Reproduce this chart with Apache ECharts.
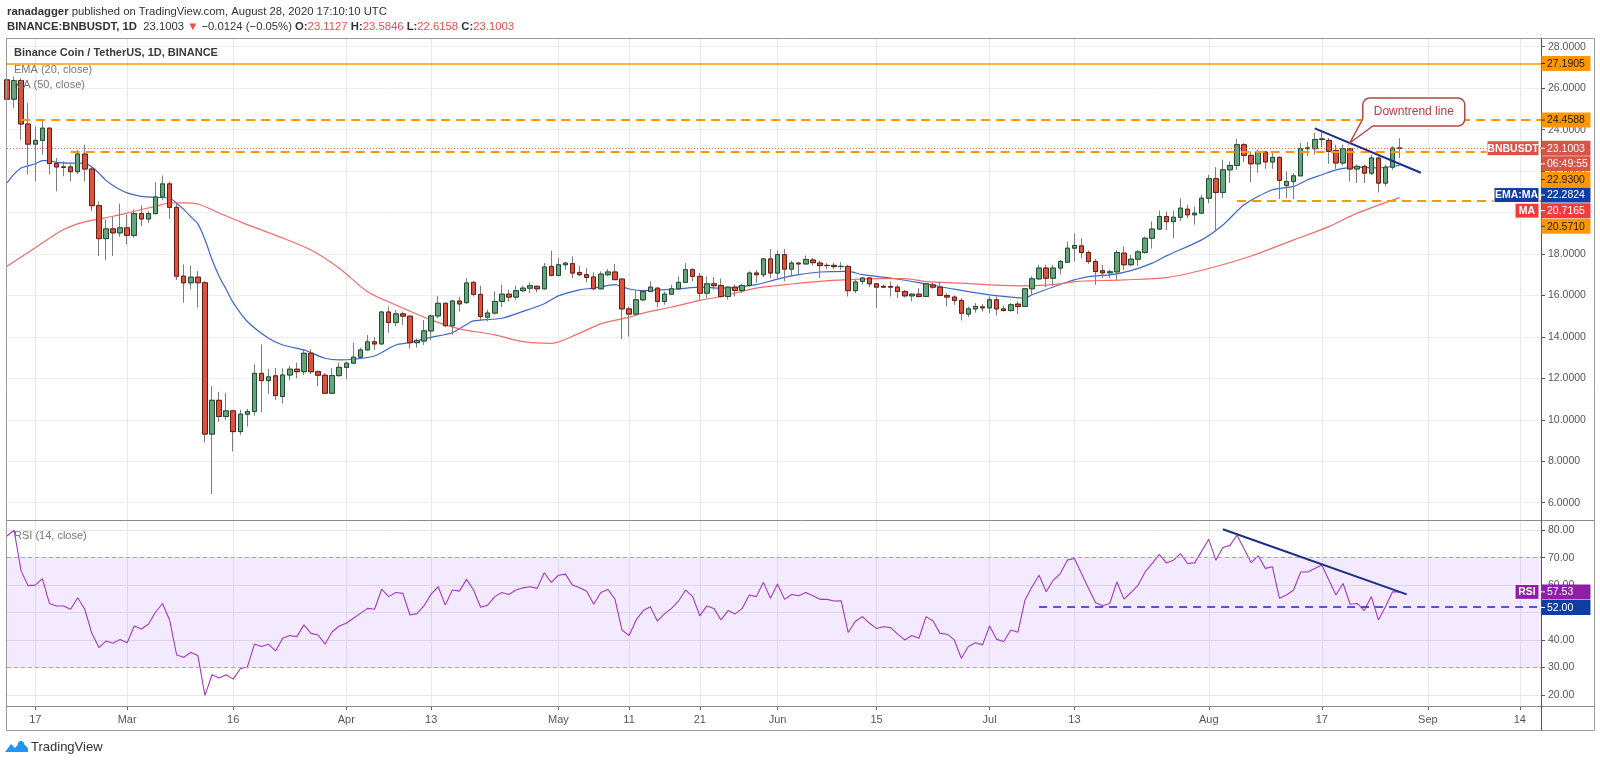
<!DOCTYPE html>
<html><head><meta charset="utf-8">
<script src="https://cdn.jsdelivr.net/npm/echarts@6/dist/echarts.min.js"></script>
<style>html,body{margin:0;padding:0;background:#fff;}#c{width:1600px;height:763px;}</style>
</head><body><div id="c"></div>
<script>
// ---------- axis categories (daily, Feb 13 2020 .. Sep 17 2020) ----------
const firstDay = Date.UTC(2020, 1, 13);
const dayCount = 218;
const dates = [];
for (let i = 0; i < dayCount; i++) dates.push(new Date(firstDay + i * 86400000).toISOString().slice(0, 10));
const xTickDates = ['2020-02-17','2020-03-01','2020-03-16','2020-04-01','2020-04-13','2020-05-01','2020-05-11','2020-05-21','2020-06-01','2020-06-15','2020-07-01','2020-07-13','2020-08-01','2020-08-17','2020-09-01','2020-09-14'];
const monthNames = ['Jan','Feb','Mar','Apr','May','Jun','Jul','Aug','Sep','Oct','Nov','Dec'];
const priceTicks = [6,8,10,12,14,16,18,20,22,24,26,28];
const rsiTicks = [20,30,40,50,60,70,80];

// ---------- BNB/USDT daily OHLC (Feb 13 .. Aug 28) ----------
const open = [26.40,25.47,26.37,24.27,23.30,23.48,24.07,22.36,22.20,22.20,
21.97,22.82,22.10,20.33,18.74,19.21,19.02,19.26,18.90,19.95,
19.69,19.95,20.75,21.38,20.25,16.93,16.61,16.88,16.61,9.31,
10.94,10.16,10.43,9.43,10.27,10.40,12.24,11.89,12.12,11.12,
12.16,12.44,12.32,13.21,12.32,12.15,11.28,12.13,12.53,12.73,
13.02,13.37,13.76,13.66,15.20,14.69,15.11,15.00,13.72,13.80,
14.29,15.01,15.62,14.54,15.73,15.65,16.63,16.05,14.95,15.15,
15.71,16.06,15.92,16.23,16.35,16.44,16.32,17.40,16.97,17.48,
17.53,17.11,17.00,16.89,16.32,17.00,17.13,16.79,15.35,15.10,
15.79,16.19,16.35,15.71,16.06,16.32,16.63,17.24,16.92,16.11,
16.56,16.48,15.95,16.40,16.24,16.48,17.08,17.00,17.76,17.08,
17.97,17.27,17.56,17.52,17.71,17.56,17.45,17.45,17.40,17.40,
16.23,16.68,16.84,16.56,16.44,16.43,16.40,16.19,15.98,16.06,
15.95,16.51,16.40,16.00,15.92,15.76,15.10,15.35,15.45,15.40,
15.79,15.35,15.27,15.58,15.47,16.32,16.80,17.32,16.83,17.32,
17.60,18.28,18.39,18.07,17.64,17.19,17.09,17.14,18.04,17.48,
17.75,18.07,18.76,19.20,19.81,19.56,19.77,20.16,19.89,19.97,
20.69,21.63,20.97,22.06,22.27,23.27,22.76,22.35,22.92,22.44,
22.66,21.31,21.50,21.77,23.08,23.08,23.52,23.48,22.99,22.39,
23.08,22.10,22.23,21.90,22.63,21.42,22.19,23.1127];
const close = [25.47,26.37,24.27,23.30,23.48,24.07,22.36,22.20,22.18,21.97,
22.82,22.10,20.33,18.74,19.21,19.02,19.26,18.90,19.95,19.69,
19.95,20.75,21.38,20.25,16.93,16.61,16.88,16.61,9.31,10.94,
10.16,10.43,9.43,10.27,10.40,12.24,11.89,12.07,11.17,12.16,
12.44,12.32,13.21,12.32,12.15,11.28,12.13,12.53,12.73,13.02,
13.37,13.76,13.66,15.20,14.69,15.11,15.00,13.72,13.82,14.29,
15.01,15.62,14.54,15.73,15.59,16.60,16.05,14.98,15.15,15.71,
16.06,15.92,16.23,16.35,16.47,16.32,17.37,16.97,17.48,17.56,
17.08,17.00,16.87,16.32,17.03,17.13,16.76,15.35,15.10,15.79,
16.19,16.40,15.71,16.06,16.32,16.63,17.24,16.92,16.11,16.56,
16.47,15.95,16.40,16.24,16.48,17.08,17.00,17.76,17.08,17.97,
17.27,17.56,17.52,17.73,17.58,17.44,17.44,17.39,17.40,16.23,
16.65,16.84,16.56,16.40,16.40,16.40,16.19,15.98,16.06,15.95,
16.56,16.40,16.00,15.92,15.76,15.14,15.35,15.47,15.40,15.79,
15.35,15.27,15.55,15.47,16.32,16.80,17.32,16.83,17.32,17.64,
18.28,18.41,18.07,17.64,17.15,17.09,17.14,18.07,17.48,17.75,
18.10,18.76,19.20,19.81,19.56,19.77,20.21,19.89,19.97,20.69,
21.63,20.97,22.06,22.27,23.27,22.76,22.35,22.92,22.44,22.66,
21.55,21.50,21.77,23.08,23.12,23.52,23.55,22.95,22.39,23.08,
22.10,22.23,21.90,22.63,21.42,22.19,23.11,23.1003];
const low = [24.60,25.04,23.51,21.83,21.50,22.79,21.83,21.02,21.75,21.50,
21.85,21.50,20.06,17.90,17.70,17.90,18.83,18.46,18.78,19.34,
19.50,19.90,20.62,19.69,16.74,15.65,16.29,15.41,8.90,6.42,
9.90,10.00,8.47,9.27,9.67,10.20,10.36,11.25,10.96,10.80,
11.90,12.00,12.16,12.20,11.63,11.25,11.25,12.08,11.95,12.70,
12.97,13.34,13.37,13.61,14.20,14.53,14.58,13.43,13.48,13.61,
13.85,14.90,14.49,14.10,15.22,15.60,15.95,14.79,14.75,15.07,
15.44,15.71,15.79,16.16,16.11,16.15,16.27,16.92,16.92,17.24,
16.84,16.92,16.63,16.27,16.29,16.92,16.76,13.89,14.02,15.03,
15.71,16.16,15.44,15.55,16.06,16.27,16.60,16.68,15.79,15.87,
16.27,15.90,15.79,15.95,16.11,16.42,16.60,16.89,16.84,16.84,
16.68,16.92,17.03,17.48,17.44,16.84,17.27,17.27,17.24,15.95,
16.11,16.52,16.40,15.39,16.36,15.95,15.87,15.90,15.71,15.90,
15.95,16.32,16.00,15.47,15.55,14.79,14.95,15.17,15.22,15.14,
15.03,15.22,15.22,15.10,15.44,16.04,16.76,16.40,16.47,17.00,
17.56,17.64,17.80,17.52,16.51,16.84,16.84,16.76,17.24,17.40,
17.42,18.01,18.26,19.17,19.16,18.76,19.60,19.73,19.42,19.92,
20.45,19.16,20.69,21.42,22.06,22.44,21.47,21.92,22.11,22.11,
20.65,20.69,20.65,21.77,22.71,22.79,23.16,22.35,22.11,22.27,
21.49,21.42,21.42,21.81,20.97,21.26,22.06,22.6158];
const high = [27.00,26.56,26.48,25.28,24.15,24.48,24.10,22.63,22.47,22.40,
23.03,23.27,22.23,20.54,19.66,19.79,20.43,19.90,20.14,20.35,
20.06,21.46,21.78,21.49,20.46,17.49,17.44,17.17,16.70,11.63,
11.35,11.31,10.45,10.48,10.52,12.68,13.64,12.45,12.49,12.49,
12.60,12.76,13.37,13.40,12.38,12.25,12.49,12.76,12.81,13.72,
13.48,14.09,13.98,15.25,15.46,15.30,15.22,15.00,13.93,14.82,
15.06,15.97,15.65,15.78,15.94,16.83,16.68,16.47,15.31,16.19,
16.52,16.27,16.47,16.47,16.63,16.47,17.56,18.16,17.81,17.60,
17.89,17.44,17.32,17.11,17.16,17.27,17.52,16.79,15.47,16.27,
16.27,16.68,16.40,16.19,16.52,16.92,17.56,17.32,17.08,16.92,
16.89,16.81,16.44,16.52,16.56,17.16,17.24,17.81,18.24,18.16,
18.24,17.68,17.61,17.92,17.81,17.68,17.56,17.56,17.60,17.48,
16.76,16.89,16.89,16.60,16.52,16.68,16.52,16.27,16.11,16.35,
16.59,16.63,16.65,16.11,16.00,15.87,15.47,15.63,15.58,15.95,
15.95,15.50,15.63,15.71,16.35,16.92,17.48,17.48,17.48,17.72,
18.60,19.00,18.76,18.17,17.76,17.48,17.24,18.20,18.36,17.96,
18.20,18.84,19.57,20.10,20.05,20.10,20.69,20.37,20.29,20.85,
21.82,22.19,22.55,22.47,23.55,23.35,22.95,23.03,22.95,22.87,
22.71,21.98,21.90,23.35,23.40,23.84,23.87,23.60,23.27,23.27,
23.11,22.31,22.31,22.79,22.71,22.31,23.19,23.5846];

// ---------- EMA(20) and MA(50) ----------
const ema20 = [['2020-02-13',21.43],['2020-02-14',21.85],['2020-02-15',22.15],['2020-02-16',22.25],['2020-02-17',22.35],['2020-02-18',22.5],['2020-02-19',22.5],['2020-02-20',22.42],['2020-02-22',22.38],['2020-02-24',22.38],['2020-02-25',22.2],['2020-02-26',21.9],['2020-02-27',21.55],['2020-02-28',21.3],['2020-02-29',21.1],['2020-03-01',20.95],['2020-03-02',20.85],['2020-03-03',20.78],['2020-03-05',20.73],['2020-03-07',20.7],['2020-03-08',20.45],['2020-03-09',20.15],['2020-03-10',19.8],['2020-03-11',19.45],['2020-03-12',18.7],['2020-03-13',17.73],['2020-03-14',16.93],['2020-03-15',16.3],['2020-03-16',15.65],['2020-03-18',14.74],['2020-03-21',13.93],['2020-03-23',13.61],['2020-03-26',13.37],['2020-03-29',12.97],['2020-03-31',12.89],['2020-04-02',12.92],['2020-04-05',13.08],['2020-04-08',13.61],['2020-04-10',13.72],['2020-04-13',13.98],['2020-04-16',14.2],['2020-04-18',14.6],['2020-04-19',14.77],['2020-04-23',14.9],['2020-04-26',15.23],['2020-04-29',15.6],['2020-05-01',15.98],['2020-05-04',16.27],['2020-05-06',16.35],['2020-05-09',16.52],['2020-05-11',16.31],['2020-05-13',16.23],['2020-05-15',16.27],['2020-05-18',16.31],['2020-05-21',16.4],['2020-05-24',16.35],['2020-05-29',16.52],['2020-06-01',16.79],['2020-06-04',17.0],['2020-06-07',17.13],['2020-06-11',17.16],['2020-06-13',17.0],['2020-06-17',16.84],['2020-06-21',16.62],['2020-06-26',16.3],['2020-07-01',16.03],['2020-07-04',15.92],['2020-07-06',15.87],['2020-07-07',16.03],['2020-07-12',16.65],['2020-07-15',16.91],['2020-07-18',16.99],['2020-07-21',17.2],['2020-07-24',17.56],['2020-07-26',17.91],['2020-07-31',18.68],['2020-08-03',19.4],['2020-08-06',20.37],['2020-08-10',21.1],['2020-08-13',21.26],['2020-08-15',21.58],['2020-08-17',21.82],['2020-08-19',22.06],['2020-08-22',22.19],['2020-08-25',22.15],['2020-08-28',22.28]];
const ma50 = [['2020-02-13',17.41],['2020-02-17',18.3],['2020-02-21',19.18],['2020-02-24',19.55],['2020-02-28',19.82],['2020-03-02',20.06],['2020-03-05',20.3],['2020-03-07',20.46],['2020-03-09',20.47],['2020-03-11',20.41],['2020-03-14',19.98],['2020-03-17',19.55],['2020-03-22',18.9],['2020-03-27',18.19],['2020-03-31',17.31],['2020-04-04',16.18],['2020-04-08',15.54],['2020-04-13',14.82],['2020-04-17',14.39],['2020-04-22',14.1],['2020-04-26',13.77],['2020-04-30',13.69],['2020-05-04',14.18],['2020-05-07',14.63],['2020-05-11',14.95],['2020-05-13',15.15],['2020-05-17',15.44],['2020-05-21',15.76],['2020-05-24',15.95],['2020-05-29',16.35],['2020-06-03',16.55],['2020-06-07',16.68],['2020-06-11',16.76],['2020-06-15',16.81],['2020-06-19',16.81],['2020-06-22',16.67],['2020-06-27',16.59],['2020-07-01',16.51],['2020-07-06',16.46],['2020-07-11',16.56],['2020-07-13',16.67],['2020-07-15',16.7],['2020-07-20',16.75],['2020-07-26',16.86],['2020-08-01',17.3],['2020-08-07',17.9],['2020-08-13',18.68],['2020-08-18',19.32],['2020-08-22',19.97],['2020-08-28',20.72]];

// ---------- RSI(14) daily ----------
const rsi = [77.9,80,65.1,59.8,60,62.4,53.3,52.4,52.4,51.2,
55.4,51.2,42.4,37.2,39.6,38.8,40.2,39,45.1,44,
45.7,50.1,53.3,47.3,34.5,33.7,35.4,34.3,19.8,27.3,
26.1,27.3,25.7,29.5,30.1,38.5,37.6,38.4,36,40.6,
41.6,41.2,45.5,42.4,41.8,38.5,43,45.1,46.1,47.9,
49.7,51.5,51.2,58.5,55.8,57.3,57,49.1,49.6,52.5,
56.7,59.4,52.7,58.2,57.8,62.1,58.2,51.9,52.7,55.8,
57.3,56.6,58.2,59,59.4,58.8,64.5,61,63.6,64,
60,59,57.8,53,57.3,58.4,54.9,43.6,41.6,47.3,
50.7,52.1,46.9,49.5,51.5,54.2,58.2,55.8,48.8,52.4,
51.5,47.3,50.7,49.5,51.5,56.4,55.8,61,55.2,60.4,
54.8,56.6,56.1,57.3,56.1,54.8,54.8,54.2,54.3,42.7,
46.7,48.5,46.1,44.2,44.8,44.5,42.1,40,41.6,40.6,
48.5,46.9,42.4,42.1,40,33.3,37.6,39,38.2,45.1,
40.2,39.4,43.6,42.8,54.5,59.4,63.6,57.6,61.8,64.2,
69.1,69.7,64.2,58.8,53.6,52.5,53.3,61.2,54.9,57.3,
60,64.8,67.9,71.2,68.1,69.1,71.5,67.9,68.1,72.4,
76.7,69.1,73.7,74.5,78.2,73.3,68.2,70.7,66.1,66.7,
55.2,56.4,58.2,64.8,64.8,66.1,67.3,61.8,56.4,60.6,
53,53.3,50.7,55.8,47.3,52.1,57.6,57.53];

// ---------- drawn levels / annotations ----------
const resistTop = 27.1905, resistMid = 24.4588, supportHi = 22.93, supportLo = 20.571;
const lastPrice = 23.1003, lastEma = 22.2824, lastMa = 20.7165, lastRsi = 57.53, rsiSupport = 52;
const trendPrice = [['2020-08-16', 24.06], ['2020-08-31', 21.92]];
const trendRsi = [['2020-08-03', 80.4], ['2020-08-29', 56.6]];

const F = '"Liberation Sans", Arial, sans-serif';
const tickSet = new Set(xTickDates);
const isTick = (i) => tickSet.has(dates[i]);
const fmtDate = (v) => { const m = +v.slice(5, 7), d = +v.slice(8); return d === 1 ? monthNames[m - 1] : String(d); };
const candles = open.map((o, i) => [o, close[i], low[i], high[i]]);
// body-only view of the same candles (drawn over the grey wicks)
const bodies = open.map((o, i) => [o, close[i], Math.min(o, close[i]), Math.max(o, close[i])]);
const dashOrange = { color: '#ff9800', type: [9, 6], width: 2 };

const chart = echarts.init(document.getElementById('c'));
chart.setOption({
  animation: false,
  textStyle: { fontFamily: F },
  grid: [
    { left: 7, right: 59, top: 38, height: 482 },
    { left: 7, right: 59, top: 520, height: 186 }
  ],
  xAxis: [
    { type: 'category', gridIndex: 0, data: dates, boundaryGap: false,
      axisLine: { show: false }, axisTick: { show: false }, axisLabel: { show: false },
      splitLine: { show: true, interval: isTick, lineStyle: { color: '#e8e8e8' } } },
    { type: 'category', gridIndex: 1, data: dates, boundaryGap: false,
      axisLine: { show: true, lineStyle: { color: '#8a8a8a' } },
      axisTick: { show: true, interval: isTick, length: 4, lineStyle: { color: '#666' } },
      axisLabel: { interval: isTick, formatter: fmtDate, color: '#555', fontSize: 11, margin: 8 },
      splitLine: { show: true, interval: isTick, lineStyle: { color: '#e8e8e8' } } }
  ],
  yAxis: [
    { type: 'value', gridIndex: 0, position: 'right', min: 5.165, max: 28.42, scale: true,
      axisLine: { show: true, lineStyle: { color: '#555' } },
      axisTick: { show: true, customValues: priceTicks, length: 4, lineStyle: { color: '#555' } },
      axisLabel: { customValues: priceTicks, formatter: (v) => v.toFixed(4), color: '#555', fontSize: 10.5, margin: 7 },
      splitLine: { show: true, lineStyle: { color: '#eeeeee' } } },
    { type: 'value', gridIndex: 1, position: 'right', min: 15.9, max: 83.75, scale: true,
      axisLine: { show: true, lineStyle: { color: '#555' } },
      axisTick: { show: true, customValues: rsiTicks, length: 4, lineStyle: { color: '#555' } },
      axisLabel: { customValues: rsiTicks, formatter: (v) => v.toFixed(2), color: '#555', fontSize: 10.5, margin: 7 },
      splitLine: { show: true, lineStyle: { color: '#e6e6e6' } } }
  ],
  series: [
    { type: 'candlestick', name: 'BNBUSDT', xAxisIndex: 0, yAxisIndex: 0, data: candles, barWidth: 5, z: 3,
      itemStyle: { color: '#66a47e', color0: '#d9533f', borderColor: '#7d7d7d', borderColor0: '#7d7d7d', borderWidth: 1 },
      markLine: { silent: true, symbol: ['none', 'none'], label: { show: false }, animation: false,
        data: [
          { yAxis: resistTop, lineStyle: { color: '#ff9800', type: 'solid', width: 1.5 } },
          [{ coord: ['2020-02-15', resistMid], lineStyle: dashOrange }, { coord: ['2020-09-17', resistMid] }],
          [{ coord: ['2020-02-22', supportHi], lineStyle: dashOrange }, { coord: ['2020-09-17', supportHi] }],
          [{ coord: ['2020-08-05', supportLo], lineStyle: dashOrange }, { coord: ['2020-09-17', supportLo] }],
          { yAxis: lastPrice, lineStyle: { color: '#e06a5a', type: [1, 2], width: 1 } },
          [{ coord: trendPrice[0], lineStyle: { color: '#1b2f86', type: 'solid', width: 2 } }, { coord: trendPrice[1] }]
        ] } },
    { type: 'candlestick', name: 'BNBUSDT bodies', xAxisIndex: 0, yAxisIndex: 0, data: bodies, barWidth: 5, z: 4,
      itemStyle: { color: '#66a47e', color0: '#d9533f', borderColor: '#1f4f30', borderColor0: '#6a1c12', borderWidth: 1 } },
    { type: 'line', name: 'EMA (20, close)', xAxisIndex: 0, yAxisIndex: 0, data: ema20, smooth: 0.25, showSymbol: false, z: 2,
      lineStyle: { color: '#3d67c7', width: 1.2 } },
    { type: 'line', name: 'MA (50, close)', xAxisIndex: 0, yAxisIndex: 0, data: ma50, smooth: 0.3, showSymbol: false, z: 2,
      lineStyle: { color: '#f46a6a', width: 1.2 } },
    { type: 'line', name: 'RSI (14, close)', xAxisIndex: 1, yAxisIndex: 1, data: rsi, showSymbol: false, z: 3,
      lineStyle: { color: '#a238c2', width: 1.1 },
      markArea: { silent: true, itemStyle: { color: 'rgba(155,60,255,0.11)' }, data: [[{ yAxis: 30 }, { yAxis: 70 }]] },
      markLine: { silent: true, symbol: ['none', 'none'], label: { show: false },
        data: [
          { yAxis: 70, lineStyle: { color: '#a9a9a9', type: [4, 3], width: 1 } },
          { yAxis: 30, lineStyle: { color: '#a9a9a9', type: [4, 3], width: 1 } },
          [{ coord: ['2020-07-08', rsiSupport], lineStyle: { color: '#1c2bb8', type: [8, 6], width: 1.5 } }, { coord: ['2020-09-17', rsiSupport] }],
          [{ coord: trendRsi[0], lineStyle: { color: '#1b2f86', type: 'solid', width: 2 } }, { coord: trendRsi[1] }]
        ] } }
  ]
});

// ---------- overlay texts / axis value tags ----------
const g = [];
const AX = 1541;
function txt(x, y, text, opt) {
  g.push({ type: 'text', z: 120, silent: true, style: Object.assign({ x, y, text, fill: '#333', fontSize: 11, fontFamily: F,
    align: 'left', verticalAlign: 'middle', textAlign: 'left', textVerticalAlign: 'middle' }, opt || {}) });
}
function tagLabel(y, text, bg, fg, tag, tagX) {
  g.push({ type: 'rect', z: 110, silent: true, shape: { x: AX + 0.5, y: y - 7.5, width: 49, height: 15 }, style: { fill: bg } });
  g.push({ type: 'line', z: 111, silent: true, shape: { x1: AX, y1: y, x2: AX + 4, y2: y }, style: { stroke: fg === '#fff' ? '#fff' : '#333', lineWidth: 1 } });
  txt(AX + 6, y + 0.5, text, { fill: fg, fontSize: 10.5 });
  if (tag) {
    g.push({ type: 'rect', z: 110, silent: true, shape: { x: tagX, y: y - 7.5, width: AX - 2 - tagX, height: 15 }, style: { fill: bg, stroke: '#fff', lineWidth: 1 } });
    txt((tagX + AX - 2) / 2, y + 0.5, tag, { fill: fg, fontSize: 10.5, fontWeight: 'bold', align: 'center', textAlign: 'center' });
  }
}
const yP = (v) => chart.convertToPixel({ yAxisIndex: 0 }, v);
const yR = (v) => chart.convertToPixel({ yAxisIndex: 1 }, v);
const xP = (d) => chart.convertToPixel({ xAxisIndex: 0 }, d);

// stacked price tags (pushed down when overlapping, like TradingView)
const tags = [
  { y: yP(resistTop), text: resistTop.toFixed(4), bg: '#ff9800', fg: '#1a1a1a' },
  { y: yP(resistMid), text: resistMid.toFixed(4), bg: '#ff9800', fg: '#1a1a1a' },
  { y: yP(lastPrice), text: lastPrice.toFixed(4), bg: '#d75446', fg: '#fff', tag: 'BNBUSDT', tagX: 1487 },
  { y: yP(lastPrice) + 15.6, text: '06:49:55', bg: '#d75446', fg: '#fff' },
  { y: yP(supportHi), text: supportHi.toFixed(4), bg: '#ff9800', fg: '#1a1a1a' },
  { y: yP(lastEma), text: lastEma.toFixed(4), bg: '#0e3ea2', fg: '#fff', tag: 'EMA:MA', tagX: 1494 },
  { y: yP(lastMa), text: lastMa.toFixed(4), bg: '#f23b3b', fg: '#fff', tag: 'MA', tagX: 1515 },
  { y: yP(supportLo), text: supportLo.toFixed(4), bg: '#ff9800', fg: '#1a1a1a' }
];
let prev = -1e9;
tags.forEach(t => { t.y = Math.max(t.y, prev + 15.6); prev = t.y; tagLabel(t.y, t.text, t.bg, t.fg, t.tag, t.tagX); });
tagLabel(yR(lastRsi), lastRsi.toFixed(2), '#8e1fa6', '#fff', 'RSI', 1515);
tagLabel(Math.max(yR(rsiSupport), yR(lastRsi) + 15.6), rsiSupport.toFixed(2), '#0e3ea2', '#fff');

// frame
g.push({ type: 'rect', z: 105, silent: true, shape: { x: 6.5, y: 38.5, width: 1588, height: 692 }, style: { fill: 'none', stroke: '#9a9a9a', lineWidth: 1 } });
g.push({ type: 'line', z: 105, silent: true, shape: { x1: 6.5, y1: 520.5, x2: 1594.5, y2: 520.5 }, style: { stroke: '#8a8a8a', lineWidth: 1 } });
g.push({ type: 'line', z: 105, silent: true, shape: { x1: 6.5, y1: 706.5, x2: 1594.5, y2: 706.5 }, style: { stroke: '#8a8a8a', lineWidth: 1 } });
g.push({ type: 'line', z: 105, silent: true, shape: { x1: AX + 0.5, y1: 38.5, x2: AX + 0.5, y2: 730.5 }, style: { stroke: '#555', lineWidth: 1 } });

// header
txt(7, 12, '{b|ranadagger} published on TradingView.com, August 28, 2020 17:10:10 UTC', {
  fontSize: 11.3, fill: '#333', rich: { b: { fontWeight: 'bold', fontSize: 11.3, fill: '#333', fontFamily: F } } });
txt(7, 27, '{b|BINANCE:BNBUSDT, 1D}  23.1003 {r|▼} −0.0124 (−0.05%) {b|O:}{r|23.1127} {b|H:}{r|23.5846} {b|L:}{r|22.6158} {b|C:}{r|23.1003}', {
  fontSize: 11.3, fill: '#333', rich: { b: { fontWeight: 'bold', fontSize: 11.3, fill: '#333', fontFamily: F }, r: { fontSize: 11.3, fill: '#f04d4d', fontFamily: F } } });
// pane legends
txt(14, 53, 'Binance Coin / TetherUS, 1D, BINANCE', { fontSize: 11, fontWeight: 'bold', fill: '#3a3a3a' });
txt(14, 70, 'EMA (20, close)', { fontSize: 11, fill: '#777' });
txt(14, 85, 'MA (50, close)', { fontSize: 11, fill: '#777' });
txt(14, 536, 'RSI (14, close)', { fontSize: 11, fill: '#777' });

// "Downtrend line" callout anchored on the trend line
const p0 = [xP(trendPrice[0][0]), yP(trendPrice[0][1])], p1 = [xP(trendPrice[1][0]), yP(trendPrice[1][1])];
const tt = 0.33, tip = [p0[0] + (p1[0] - p0[0]) * tt, p0[1] + (p1[1] - p0[1]) * tt];
const bx = tip[0] + 13, by = tip[1] - 45, bw = 102, bh = 28;
g.push({ type: 'rect', z: 115, silent: true, shape: { x: bx, y: by, width: bw, height: bh, r: 7 }, style: { fill: '#fff', stroke: '#b24747', lineWidth: 1.5 } });
g.push({ type: 'polygon', z: 116, silent: true, shape: { points: [[bx + 0.5, by + bh - 8], tip, [bx + 10, by + bh - 0.8]] }, style: { fill: '#fff', stroke: 'none' } });
g.push({ type: 'polyline', z: 117, silent: true, shape: { points: [[bx, by + bh - 7], tip, [bx + 10, by + bh]] }, style: { fill: 'none', stroke: '#b24747', lineWidth: 1.5 } });
txt(bx + bw / 2, by + bh / 2, 'Downtrend line', { fill: '#b03f3f', fontSize: 12, align: 'center', textAlign: 'center' });

// TradingView footer logo
g.push({ type: 'polygon', z: 120, silent: true, shape: { points: [[5, 752], [11, 744], [15, 748], [21, 741], [28, 748], [28, 752]] }, style: { fill: '#2196f3' } });
g.push({ type: 'circle', z: 121, silent: true, shape: { cx: 21, cy: 744, r: 3 }, style: { fill: '#2196f3' } });
txt(31, 747, 'TradingView', { fontSize: 13, fill: '#333' });

chart.setOption({ graphic: { elements: g } });
</script>
</body></html>
